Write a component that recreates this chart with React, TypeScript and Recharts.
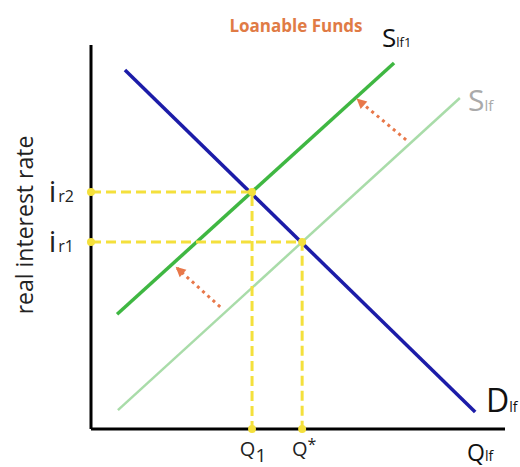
import React from 'react';
import { LineChart, Line, XAxis, YAxis } from 'recharts';

// curve end points, in chart units (quantity 0-100, rate 0-100)
const demand = [{ x: 8.2, y: 93.5 }, { x: 92.8, y: 4.4 }];
const supplyNew = [{ x: 6.3, y: 29.9 }, { x: 73.2, y: 95.3 }];
const supplyOld = [{ x: 6.5, y: 4.9 }, { x: 89.1, y: 86.2 }];

// equilibrium guides
const guideHigh = [{ x: 0, y: 61.7 }, { x: 38.9, y: 61.7 }, { x: 38.9, y: 0 }];
const guideLow = [{ x: 0, y: 48.7 }, { x: 51.0, y: 48.7 }, { x: 51.0, y: 0 }];

// shift arrows (tail -> head)
const arrowUpper = [{ x: 76.1, y: 75.3 }, { x: 64.5, y: 85.7 }];
const arrowLower = [{ x: 31.2, y: 31.8 }, { x: 20.8, y: 41.9 }];

const qTicks = [38.9, 51.0];
const qLabels = [{ main: 'Q', sub: '1' }, { main: 'Q', sub: '*' }];
const rTicks = [48.7, 61.7];
const rLabels = ['r1', 'r2'];

const FONT = '"Open Sans", sans-serif';
const YELLOW = '#f4e03c';
const ORANGE = '#e8784a';

const QTick = (props: any) => {
  const { x, y, payload } = props;
  const i = qTicks.indexOf(payload.value);
  const lab = qLabels[i] || { main: '', sub: '' };
  const star = lab.sub === '*';
  return (
    <text x={x + (star ? 2 : 1)} y={y + 19} textAnchor="middle" fontFamily={FONT} fill="#222">
      <tspan fontSize={20}>{lab.main}</tspan>
      <tspan fontSize={star ? 16 : 19} dy={star ? -6 : 6}>{lab.sub}</tspan>
    </text>
  );
};

const RTick = (props: any) => {
  const { x, y, payload } = props;
  const i = rTicks.indexOf(payload.value);
  return (
    <text x={x - 9} y={y + 10} textAnchor="end" fontFamily={FONT} fill="#222">
      <tspan fontSize={30}>i</tspan>
      <tspan fontSize={16} dx={2}>{rLabels[i]}</tspan>
    </text>
  );
};

const ArrowHead = (props: any) => {
  const { cx, cy, index } = props;
  if (index !== 1) return <g key={`a-${index}`} />;
  return (
    <polygon
      key={`a-${index}`}
      points="2,0 -8,-5 -8,5"
      fill={ORANGE}
      transform={`translate(${cx},${cy}) rotate(-138)`}
    />
  );
};

const GuideDot = (props: any) => {
  const { cx, cy, index } = props;
  return <circle key={`g-${index}`} cx={cx} cy={cy} r={4} fill={YELLOW} />;
};

const App: React.FC = () => {
  return (
    <div style={{ position: 'absolute', left: 0, top: 0, width: 520, height: 467, background: '#fff' }}>
      <LineChart width={520} height={467} margin={{ top: 45, right: 15, left: 0, bottom: 0 }}>
        <XAxis
          type="number"
          dataKey="x"
          domain={[0, 100]}
          ticks={qTicks}
          interval={0}
          height={38}
          tickLine={false}
          axisLine={{ stroke: '#000', strokeWidth: 3 }}
          tick={<QTick />}
        />
        <YAxis
          type="number"
          dataKey="y"
          domain={[0, 100]}
          ticks={rTicks}
          interval={0}
          width={91}
          tickLine={false}
          axisLine={{ stroke: '#000', strokeWidth: 3 }}
          tick={<RTick />}
        />
        <Line data={supplyOld} dataKey="y" stroke="#a9dca9" strokeWidth={2.5} dot={false} isAnimationActive={false} />
        <Line data={supplyNew} dataKey="y" stroke="#3fb742" strokeWidth={3.5} dot={false} isAnimationActive={false} />
        <Line data={demand} dataKey="y" stroke="#1c1ca8" strokeWidth={3.5} dot={false} isAnimationActive={false} />
        <Line data={guideHigh} dataKey="y" stroke={YELLOW} strokeWidth={3} strokeDasharray="10 5" dot={<GuideDot />} isAnimationActive={false} />
        <Line data={guideLow} dataKey="y" stroke={YELLOW} strokeWidth={3} strokeDasharray="10 5" dot={<GuideDot />} isAnimationActive={false} />
        <Line data={arrowUpper} dataKey="y" stroke={ORANGE} strokeWidth={3} strokeDasharray="3 4" dot={<ArrowHead />} isAnimationActive={false} />
        <Line data={arrowLower} dataKey="y" stroke={ORANGE} strokeWidth={3} strokeDasharray="3 4" dot={<ArrowHead />} isAnimationActive={false} />
      </LineChart>
      <svg width={520} height={467} style={{ position: 'absolute', left: 0, top: 0, pointerEvents: 'none' }}>
        <text x={296} y={32} textAnchor="middle" fontFamily={FONT} fontWeight="bold" fontSize={17} fill="#e07b45">
          Loanable Funds
        </text>
        <text x={382} y={47} fontFamily={FONT} fill="#111">
          <tspan fontSize={26}>S</tspan>
          <tspan fontSize={13}>lf1</tspan>
        </text>
        <text x={468} y={111} fontFamily={FONT} fill="#aaa">
          <tspan fontSize={30}>S</tspan>
          <tspan fontSize={15}>lf</tspan>
        </text>
        <text x={486} y={412} fontFamily={FONT} fill="#111">
          <tspan fontSize={32}>D</tspan>
          <tspan fontSize={14}>lf</tspan>
        </text>
        <text x={467} y={461} fontFamily={FONT} fill="#111">
          <tspan fontSize={23}>Q</tspan>
          <tspan fontSize={14}>lf</tspan>
        </text>
        <text
          x={0}
          y={0}
          transform="translate(33,225) rotate(-90)"
          textAnchor="middle"
          fontFamily={FONT}
          fontSize={23}
          fill="#222"
        >
          real interest rate
        </text>
      </svg>
    </div>
  );
};

export default App;
